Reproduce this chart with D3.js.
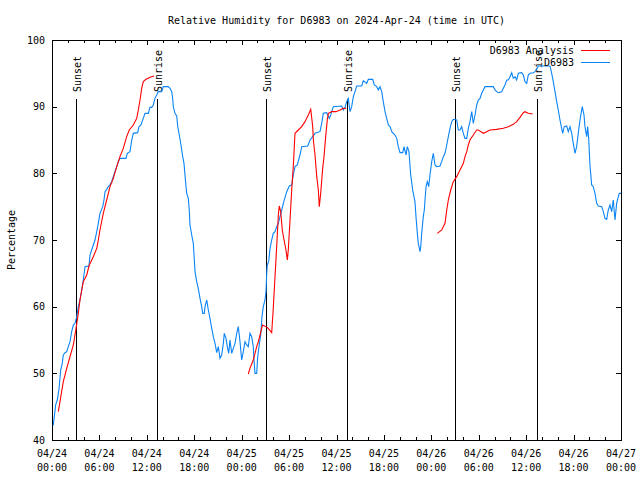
<!DOCTYPE html>
<html><head><meta charset="utf-8">
<script src="https://cdn.jsdelivr.net/npm/d3@7"></script>
<style>
body{margin:0;background:#fff}
svg text{font-family:"DejaVu Sans Mono",monospace;font-size:10px;fill:#000}
</style>
</head><body><svg id="chart" width="640" height="480"></svg>
<script>
// ---------- data ----------
const startTime = Date.UTC(2024, 3, 24, 0, 0);
const endTime = Date.UTC(2024, 3, 27, 0, 0);
const titleText = "Relative Humidity for D6983 on 2024-Apr-24 (time in UTC)";
const yLabelText = "Percentage";
const yTicks = [40, 50, 60, 70, 80, 90, 100];
const seriesNames = ["D6983 Analysis", "D6983"];
const seriesColors = ["#ff0000", "#0a84f5"];
const eventNames = ["Sunset", "Sunrise", "Sunset", "Sunrise", "Sunset", "Sunrise"];
const eventHours = [3.07, 13.32, 27.12, 37.37, 51.03, 61.33];

// observations: [hours since 04/24 00:00 UTC, RH %]
const observed = [
[0.16,42.2],[0.47,45.3],[0.67,46.0],[0.89,47.7],[1.10,50.5],[1.30,51.5],[1.43,52.75],[1.65,53.1],[1.86,53.25],[2.06,54],
[2.28,54.75],[2.49,56.25],[2.70,57.25],[2.91,57.5],[3.13,58.5],[3.33,60],[3.54,61],[3.76,62.5],[3.96,64],[4.18,66],
[4.68,66.1],[4.81,67.75],[5.02,68.5],[5.23,69.25],[5.44,70],[5.66,71.25],[5.86,72.5],[6.07,74],[6.42,75],[6.58,76],
[6.71,77.25],[6.92,77.6],[7.12,78],[7.34,78.25],[7.55,78.75],[7.76,79.5],[7.97,80.25],[8.19,81],[8.39,81.75],[8.60,82.25],
[9.36,82.25],[9.53,83],[9.87,83.25],[10.09,85],[10.29,86],[10.84,86.1],[11.01,87],[11.26,87.25],[11.55,88.25],[11.77,89],
[12.19,89],[12.40,89.9],[12.62,89.9],[12.82,90.25],[13.03,91.25],[13.25,91.75],[13.45,92.25],[13.88,92.25],[14.08,93],[14.72,93],
[14.93,92.75],[15.15,92.25],[15.27,91.25],[15.35,90],[15.56,89],[15.78,88.6],[15.91,87],[16.11,85.75],[16.32,84.25],[16.54,82.5],
[16.70,81.5],[16.92,78.5],[17.05,77],[17.25,76.25],[17.37,74.5],[17.46,72.25],[17.68,70.75],[17.88,69.5],[18.10,65.25],[18.31,63.75],
[18.51,62.75],[18.73,61.25],[18.94,60],[19.07,59],[19.27,59],[19.36,60],[19.58,61],[19.78,59.5],[19.99,58.25],[20.21,56.75],
[20.41,55.5],[20.63,54.5],[20.84,53.1],[21.04,54],[21.26,52.25],[21.47,52.75],[21.68,54.5],[21.80,56],[22.02,55.25],[22.18,54],
[22.36,53],[22.52,55],[22.74,53],[22.94,53.75],[23.16,54.5],[23.37,56],[23.57,57],[23.79,54.75],[24.00,52],[24.21,53.25],
[24.42,54.75],[24.64,54.25],[24.84,54],[25.05,56],[25.27,55.5],[25.47,54],[25.56,52],[25.69,50],[25.90,50],[26.03,52.5],
[26.19,54],[26.41,55.75],[26.57,58.5],[26.74,60],[26.95,61],[27.08,62.25],[27.17,65],[27.24,66.25],[27.42,66.75],[27.59,68.75],
[27.80,70],[28.00,71],[28.22,71.25],[28.43,72],[28.64,72.5],[28.85,73.5],[29.07,74.5],[29.27,75.5],[29.70,77.25],[30.03,78.1],
[30.33,78.25],[30.53,79.75],[30.75,81],[31.04,81.25],[31.38,82.75],[31.60,84],[32.36,84.1],[32.65,85],[32.99,85.5],[33.28,86],
[33.91,86.25],[34.13,87.5],[34.33,89],[34.76,89.1],[35.09,88.25],[35.27,88.75],[35.39,89.25],[35.60,90],[36.66,90.1],[36.86,89.5],
[37.08,89.9],[37.29,90.75],[37.49,91.25],[37.71,89.25],[37.92,90],[38.13,91.5],[38.56,93.1],[39.19,93.1],[39.39,93.9],[39.82,93.5],
[40.03,94.1],[40.58,94.1],[40.78,93.25],[41.09,93],[41.29,92.5],[41.50,93],[41.72,92.25],[41.92,90.75],[42.14,89.25],[42.35,88.25],
[42.56,87.25],[42.77,87],[42.99,86.25],[43.40,85.75],[43.62,85.25],[43.82,84],[44.04,83.1],[44.38,83.1],[44.54,84],[44.80,82.75],
[44.96,84],[45.17,83.25],[45.39,79.75],[45.64,77.5],[45.93,75.75],[46.06,73.5],[46.23,71],[46.35,69.5],[46.57,68.25],[46.66,69],
[46.78,71],[46.98,73.5],[47.11,74.5],[47.20,76],[47.33,78],[47.49,78.75],[47.67,78],[47.83,79.75],[48.05,81.75],[48.25,83],
[48.46,81.25],[48.68,81],[49.10,81.1],[49.31,81.75],[49.52,82.5],[49.73,83],[49.95,84.25],[50.15,85.5],[50.36,86.75],[50.58,87.75],
[50.78,88.1],[51.21,88],[51.41,86.5],[51.63,86.5],[51.84,87],[52.05,86],[52.26,85.25],[52.48,85.25],[52.68,86.75],[52.89,87.75],
[53.11,89.25],[53.31,87.5],[53.53,88.75],[53.74,90.25],[53.94,91],[54.16,91.25],[54.37,92],[54.58,92.5],[54.79,93],[55.84,93],
[56.06,92.5],[56.27,92.25],[56.47,92.1],[56.90,92.25],[57.11,92.75],[57.32,93.25],[57.54,94],[57.74,94],[57.96,94.5],[58.17,95.1],
[58.37,94.25],[58.59,94.5],[58.80,94],[59.01,95],[59.44,95.1],[59.64,94.75],[59.85,93.75],[60.07,93.5],[60.27,94.75],[60.49,95],
[60.90,95.1],[61.12,95.25],[61.54,96.1],[63.02,96.1],[63.23,95],[63.43,93.75],[63.65,92.25],[63.86,90.75],[64.06,89.5],[64.28,88],
[64.49,86.75],[64.62,86],[64.82,87],[65.13,87.1],[65.33,86.25],[65.55,87],[65.76,86],[65.96,84.5],[66.18,83],[66.39,84],
[66.59,86],[66.81,88],[67.10,90],[67.32,88.75],[67.44,87],[67.66,85.5],[67.78,87],[67.91,85.25],[68.07,81.25],[68.29,78.25],
[68.49,78],[68.71,77],[68.92,75.5],[69.13,75.1],[69.56,75],[69.76,74.25],[69.97,73.25],[70.19,73.1],[70.39,74.5],[70.61,75.25],
[70.82,74.25],[71.02,76],[71.24,73],[71.45,75.5],[71.66,76.5],[71.79,77],[72.0,77]
];

// analysis: [hours, RH %]; null marks a gap
const analysis = [
[0.80,44.25],[1.01,45.75],[1.43,48.75],[1.86,50.75],[2.28,52.5],[2.70,54.25],[3.04,56.75],[3.33,59],[3.54,61],[3.96,63.75],
[4.39,64.75],[4.72,66.25],[5.23,67.5],[5.66,68.75],[5.86,70],[6.07,71.5],[6.49,74],[6.92,76],[7.34,78],[7.76,79.25],
[8.19,81],[8.60,82.5],[9.02,83.75],[9.45,85.5],[9.78,86.5],[10.29,87.25],[10.72,88.25],[10.92,89.5],[11.14,91],[11.35,92.75],
[11.55,93.75],[11.89,94.1],[12.40,94.4],[12.91,94.6],
null,
[24.84,49.9],[25.05,50.75],[25.27,51.4],[25.47,52],[25.69,53],[25.90,54],[26.11,54.75],[26.32,55.75],[26.64,57.25],[27.24,56.9],
[27.80,56.1],[28.00,59.75],[28.22,64.5],[28.43,69],[28.64,73.75],[28.76,75.1],[28.94,74.25],[29.14,71.5],[29.36,70],[29.57,68.75],
[29.78,67],[29.90,68.5],[30.12,73],[30.33,77.5],[30.53,81],[30.75,86],[31.17,86.5],[31.60,87],[32.01,87.75],[32.43,88.75],
[32.74,89.6],[32.99,87],[33.07,85],[33.28,82.75],[33.50,79.5],[33.70,77.5],[33.82,75],[34.00,77],[34.25,80.75],[34.42,82.5],
[34.63,85.5],[34.84,88.1],[34.97,89],[35.39,89.25],[35.94,89.25],[36.44,89.5],[36.86,89.75],[37.20,89.75],
null,
[48.76,71],[49.31,71.5],[49.73,72.5],[49.95,74.5],[50.15,76],[50.45,77.5],[50.78,78.75],[51.21,79.5],[51.63,80.5],[52.05,81.5],
[52.26,82.5],[52.48,83.25],[52.68,84.25],[52.89,85],[53.31,85.75],[53.74,86.5],[53.94,86.5],[54.58,86],[55.01,86.25],[55.42,86.5],
[56.27,86.6],[57.11,86.75],[57.74,87],[58.37,87.35],[58.80,87.75],[59.22,88.4],[59.64,89.1],[59.85,89.25],[60.27,89],[60.83,88.9]
];

// ---------- drawing ----------
const svg = d3.select("#chart");
const L = 52, R = 621, T = 40, B = 440;
const toDate = h => new Date(startTime + h * 3600e3);
const x = d3.scaleUtc().domain([new Date(startTime), new Date(endTime)]).range([L, R]);
const y = d3.scaleLinear().domain([40, 100]).range([B, T]);

const majorX = d3.utcHour.every(6).range(new Date(startTime), new Date(endTime + 1));
const minorX = d3.utcHour.every(2).range(new Date(startTime), new Date(endTime + 1))
  .filter(d => d.getUTCHours() % 6 !== 0);

const axisG = svg.append("g").attr("shape-rendering", "crispEdges");
function tickAxis(axis, tr) {
  const g = axisG.append("g").attr("transform", tr).call(axis);
  g.select(".domain").remove();
  g.selectAll("line").attr("stroke", "#000");
  g.selectAll("text").remove();
  return g;
}
tickAxis(d3.axisBottom(x).tickValues(majorX).tickSize(-5), `translate(0,${B})`);
tickAxis(d3.axisTop(x).tickValues(majorX).tickSize(-5), `translate(0,${T})`);
tickAxis(d3.axisBottom(x).tickValues(minorX).tickSize(-3), `translate(0,${B})`);
tickAxis(d3.axisTop(x).tickValues(minorX).tickSize(-3), `translate(0,${T})`);
tickAxis(d3.axisLeft(y).tickValues(yTicks).tickSize(-5), `translate(${L},0)`);
tickAxis(d3.axisRight(y).tickValues(yTicks).tickSize(-5), `translate(${R},0)`);

axisG.append("rect").attr("x", L).attr("y", T).attr("width", R - L).attr("height", B - T)
  .attr("fill", "none").attr("stroke", "#000");

// tick labels
const fmtD = d3.utcFormat("%m/%d"), fmtT = d3.utcFormat("%H:%M");
svg.append("g").selectAll("g").data(majorX).join("g").each(function(d) {
  const g = d3.select(this);
  g.append("text").attr("x", x(d)).attr("y", B + 17).attr("text-anchor", "middle").text(fmtD(d));
  g.append("text").attr("x", x(d)).attr("y", B + 31).attr("text-anchor", "middle").text(fmtT(d));
});
svg.append("g").selectAll("text").data(yTicks).join("text")
  .attr("x", L - 7).attr("y", d => y(d)).attr("dy", "0.35em").attr("text-anchor", "end").text(d => d);

// title and y label
svg.append("text").attr("x", (L + R) / 2).attr("y", 24).attr("text-anchor", "middle").text(titleText);
svg.append("text").attr("transform", `translate(15,${(T + B) / 2}) rotate(-90)`)
  .attr("text-anchor", "middle").text(yLabelText);

// event lines
const evG = svg.append("g");
eventHours.forEach((h, i) => {
  const ex = Math.round(x(toDate(h))) + 0.5;
  evG.append("line").attr("x1", ex).attr("x2", ex).attr("y1", y(91.2)).attr("y2", B)
    .attr("stroke", "#000").attr("shape-rendering", "crispEdges");
  evG.append("text").attr("transform", `translate(${ex + 4.5},92) rotate(-90)`).text(eventNames[i]);
});

// series
const line = d3.line().defined(d => d != null).x(d => x(toDate(d[0]))).y(d => y(d[1]));
svg.append("path").datum(observed).attr("d", line).attr("fill", "none")
  .attr("stroke", seriesColors[1]).attr("stroke-width", 1.1);
svg.append("path").datum(analysis).attr("d", line).attr("fill", "none")
  .attr("stroke", seriesColors[0]).attr("stroke-width", 1.1);

// legend
const lg = svg.append("g");
seriesNames.forEach((n, i) => {
  const ly = 50 + i * 12;
  lg.append("text").attr("x", 574).attr("y", ly).attr("dy", "0.35em").attr("text-anchor", "end").text(n);
  lg.append("line").attr("x1", 581).attr("x2", 610).attr("y1", ly + 0.5).attr("y2", ly + 0.5)
    .attr("stroke", seriesColors[i]).attr("shape-rendering", "crispEdges");
});
</script></body></html>
